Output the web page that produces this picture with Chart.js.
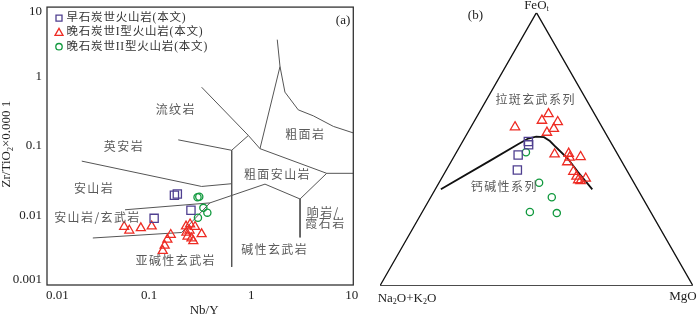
<!DOCTYPE html>
<html>
<head>
<meta charset="utf-8">
<script src="https://cdn.jsdelivr.net/npm/chart.js@4.4.0/dist/chart.umd.min.js"></script>
<style>
html, body { margin: 0; padding: 0; background: #fff; }
#wrap { position: relative; width: 700px; height: 316px; overflow: hidden; }
#left { position: absolute; left: 0; top: 0; }
#right { position: absolute; left: 366px; top: 0; }
</style>
</head>
<body>
<div id="wrap">
<canvas id="left" width="366" height="316"></canvas>
<canvas id="right" width="334" height="316"></canvas>
</div>
<script>
// ---- (a) Nb/Y vs Zr/TiO2*0.0001 ----
var earlyNbY  = [0.177, 0.189, 0.257, 0.112];
var earlyZrTi = [0.0196, 0.0204, 0.0119, 0.0091];
var lateINbY  = [0.057, 0.064, 0.083, 0.106, 0.136, 0.142, 0.151, 0.163, 0.230, 0.252, 0.282, 0.232, 0.238, 0.260, 0.271, 0.327, 0.249];
var lateIZrTi = [0.0069, 0.0061, 0.0066, 0.0070, 0.0031, 0.0037, 0.0045, 0.0053, 0.0070, 0.0075, 0.0069, 0.0057, 0.0050, 0.0047, 0.0043, 0.0054, 0.0061];
var lateIINbY  = [0.298, 0.310, 0.340, 0.372, 0.301];
var lateIIZrTi = [0.0183, 0.0186, 0.0129, 0.0110, 0.0093];

var decadeX = [0.01, 0.1, 1, 10];
var decadeY = [0.001, 0.01, 0.1, 1, 10];

// field boundaries (Nb/Y, Zr/TiO2)
var fieldLines = [
  [[0.0219, 0.0607], [0.327, 0.0262], [0.644, 0.0287]],
  [[0.0581, 0.0121], [0.394, 0.0152], [1.365, 0.0283], [3.01, 0.0173], [5.49, 0.0405], [10, 0.0405]],
  [[0.0281, 0.00475], [0.2085, 0.0057], [0.394, 0.0152]],
  [[0.644, 0.0869], [0.644, 0.00182]],
  [[0.193, 0.1228], [0.644, 0.0869]],
  [[0.327, 0.703], [0.938, 0.142], [0.644, 0.0869]],
  [[0.938, 0.142], [1.219, 0.0917], [1.915, 1.395], [1.80, 3.40]],
  [[1.915, 1.395], [2.14, 0.597], [2.89, 0.332], [4.06, 0.272], [6.37, 0.192], [10, 0.1545]],
  [[1.219, 0.0917], [5.49, 0.0405]],
  [[3.01, 0.0173], [3.01, 0.00484]]
];
var fieldNames = ['流纹岩', '英安岩', '粗面岩', '安山岩', '安山岩/玄武岩', '亚碱性玄武岩', '粗面安山岩', '响岩/', '霞石岩', '碱性玄武岩'];
var fieldAt = [[0.1795, 0.338], [0.0558, 0.1], [3.33, 0.148], [0.0284, 0.0248], [0.0307, 0.0093], [0.1795, 0.00226], [1.78, 0.0395], [5.0, 0.0112], [5.25, 0.0077], [1.67, 0.00322]];

// ---- (b) AFM ternary: FeOt, Na2O+K2O, MgO ----
var earlyFeO = [52.8, 51.6, 47.9, 42.4];
var earlyAlk = [26.2, 26.7, 31.9, 34.9];
var earlyMgO = [21.0, 21.7, 20.2, 22.7];
var lateIFeO = [58.1, 60.5, 62.9, 60.0, 57.5, 56.1, 48.2, 48.4, 47.0, 45.3, 47.2, 41.8, 40.0, 38.7, 39.3, 38.4];
var lateIAlk = [27.8, 18.0, 14.7, 13.2, 15.7, 18.6, 20.1, 15.5, 15.9, 17.5, 12.3, 17.3, 17.2, 17.3, 14.6, 16.7];
var lateIMgO = [14.1, 21.5, 22.4, 26.8, 26.8, 25.3, 31.7, 36.1, 37.1, 37.2, 40.5, 40.9, 42.8, 44.0, 46.1, 44.9];
var lateIIFeO = [48.9, 37.7, 32.4, 27.0, 26.6];
var lateIIAlk = [28.9, 30.3, 28.9, 38.6, 30.2];
var lateIIMgO = [22.2, 32.0, 38.7, 34.4, 43.2];
// Irvine & Baragar tholeiitic / calc-alkaline divide
var ibFeO = [35.3, 45.9, 51.9, 53.9, 54.6, 54.4, 53.0, 50.8, 46.6, 41.8, 35.3];
var ibAlk = [62.9, 41.7, 29.8, 25.7, 22.8, 20.4, 19.2, 18.4, 16.7, 15.9, 14.5];
var ibMgO = [1.8, 12.4, 18.3, 20.4, 22.6, 25.2, 27.8, 30.8, 36.7, 42.2, 50.2];

var PURPLE = '#4f3f90', RED = '#ee2c24', GREEN = '#11993e';
var SERIF = '"Liberation Serif", "DejaVu Serif", serif';
var CJK = '"Noto Sans CJK SC", sans-serif';

function pairs(xs, ys) {
  return xs.map(function (x, i) { return { x: x, y: ys[i] }; });
}
function tern(f, a, m) {
  var s = f + a + m;
  return { x: 100 * (m + f / 2) / s, y: 100 * (f / s) * Math.sqrt(3) / 2 };
}
function ternPts(fs, as, ms) {
  return fs.map(function (f, i) { return tern(f, as[i], ms[i]); });
}
function spaced(ctx, text, x, y, gap) {
  var chars = Array.from(text);
  var ws = chars.map(function (c) { return ctx.measureText(c).width; });
  var total = ws.reduce(function (s, w) { return s + w; }, 0) + gap * (chars.length - 1);
  var cx = x - total / 2;
  ctx.textAlign = 'left';
  chars.forEach(function (c, i) { ctx.fillText(c, cx, y); cx += ws[i] + gap; });
}
// parts: [text, isSubscript]
function rich(ctx, parts, x, y, size) {
  var big = size + 'px ' + SERIF, small = Math.round(size * 0.62) + 'px ' + SERIF;
  var total = 0;
  parts.forEach(function (p) { ctx.font = p[1] ? small : big; total += ctx.measureText(p[0]).width; });
  var cx = x - total / 2;
  ctx.textAlign = 'left';
  parts.forEach(function (p) {
    ctx.font = p[1] ? small : big;
    ctx.fillText(p[0], cx, p[1] ? y + size * 0.28 : y);
    cx += ctx.measureText(p[0]).width;
  });
}
function pointSet(data, style, color, r) {
  return {
    data: data, showLine: false, pointStyle: style, pointRadius: r, pointHoverRadius: r,
    pointBorderColor: color, pointBackgroundColor: 'rgba(0,0,0,0)', pointBorderWidth: 1.3, order: 0
  };
}
function lineSet(data, color, width) {
  return {
    data: data, showLine: true, borderColor: color, borderWidth: width, pointRadius: 0,
    fill: false, tension: 0, order: 5
  };
}

var leftDeco = {
  id: 'leftDeco',
  afterDraw: function (chart) {
    var ctx = chart.ctx, a = chart.chartArea, sx = chart.scales.x, sy = chart.scales.y;
    ctx.save();
    ctx.strokeStyle = '#333';
    ctx.lineWidth = 1.3;
    ctx.strokeRect(a.left, a.top, a.right - a.left, a.bottom - a.top);

    ctx.fillStyle = '#222';
    ctx.font = '13px ' + SERIF;
    ctx.textBaseline = 'middle';
    ctx.textAlign = 'center';
    decadeX.forEach(function (v) {
      var t = String(v), w = ctx.measureText(t).width;
      var px = sx.getPixelForValue(v);
      px = Math.max(px, a.left + w / 2 - 1);
      px = Math.min(px, a.right + 5 - w / 2);
      ctx.fillText(t, px, a.bottom + 11);
    });
    ctx.textAlign = 'right';
    decadeY.forEach(function (v) {
      var py = sy.getPixelForValue(v);
      py = Math.min(Math.max(py, a.top + 4), a.bottom - 5.5);
      ctx.fillText(String(v), a.left - 5, py);
    });

    ctx.font = '13px ' + SERIF;
    ctx.textAlign = 'center';
    ctx.fillText('Nb/Y', (a.left + a.right) / 2 + 4, a.bottom + 26);
    ctx.save();
    ctx.translate(7, (a.top + a.bottom) / 2 - 2);
    ctx.rotate(-Math.PI / 2);
    rich(ctx, [['Zr/TiO', 0], ['2', 1], ['×0.000 1', 0]], 0, 0, 13);
    ctx.restore();

    ctx.font = '13px ' + SERIF;
    ctx.textAlign = 'right';
    ctx.fillText('(a)', a.right - 3, a.top + 13);

    ctx.fillStyle = '#5a5a5a';
    ctx.font = '12px ' + CJK;
    fieldNames.forEach(function (n, i) {
      spaced(ctx, n, sx.getPixelForValue(fieldAt[i][0]), sy.getPixelForValue(fieldAt[i][1]), 1.4);
    });

    // legend
    var rows = [['早石炭世火山岩(本文)', PURPLE, 's'], ['晚石炭世I型火山岩(本文)', RED, 't'], ['晚石炭世II型火山岩(本文)', GREEN, 'c']];
    ctx.lineWidth = 1.3;
    rows.forEach(function (r, i) {
      var y = a.top + 11 + i * 14.3, x = a.left + 12;
      ctx.strokeStyle = r[1];
      ctx.beginPath();
      if (r[2] === 's') ctx.rect(x - 3, y - 3, 6, 6);
      else if (r[2] === 't') { ctx.moveTo(x, y - 4); ctx.lineTo(x + 4, y + 3); ctx.lineTo(x - 4, y + 3); ctx.closePath(); }
      else ctx.arc(x, y, 3.2, 0, Math.PI * 2);
      ctx.stroke();
      ctx.fillStyle = '#333';
      ctx.font = '11.5px ' + SERIF + ', ' + CJK;
      ctx.textAlign = 'left';
      var cx = x + 7.5;
      Array.from(r[0]).forEach(function (c) { ctx.fillText(c, cx, y); cx += ctx.measureText(c).width + 0.8; });
    });
    ctx.restore();
  }
};

var leftSets = [
  pointSet(pairs(earlyNbY, earlyZrTi), 'rect', PURPLE, 5.8),
  pointSet(pairs(lateINbY, lateIZrTi), 'triangle', RED, 5.2),
  pointSet(pairs(lateIINbY, lateIIZrTi), 'circle', GREEN, 3.6)
];
fieldLines.forEach(function (l) {
  leftSets.push(lineSet(l.map(function (p) { return { x: p[0], y: p[1] }; }), '#555', 1));
});

new Chart(document.getElementById('left'), {
  type: 'scatter',
  data: { datasets: leftSets },
  options: {
    responsive: false,
    animation: false,
    layout: { padding: { top: 3, right: 12.7, left: 0, bottom: 0 } },
    plugins: { legend: { display: false }, tooltip: { enabled: false } },
    scales: {
      x: {
        type: 'logarithmic', min: 0.01, max: 10,
        grid: { display: false }, border: { display: false }, ticks: { display: false },
        afterFit: function (s) { s.height = 31; }
      },
      y: {
        type: 'logarithmic', min: 0.001, max: 10,
        grid: { display: false }, border: { display: false }, ticks: { display: false },
        afterFit: function (s) { s.width = 47; }
      }
    }
  },
  plugins: [leftDeco]
});

var rightDeco = {
  id: 'rightDeco',
  afterDraw: function (chart) {
    var ctx = chart.ctx, sx = chart.scales.x, sy = chart.scales.y;
    ctx.save();
    ctx.fillStyle = '#222';
    ctx.textBaseline = 'middle';
    var apex = tern(100, 0, 0), left = tern(0, 100, 0), right = tern(0, 0, 100);
    rich(ctx, [['FeO', 0], ['t', 1]], sx.getPixelForValue(apex.x), sy.getPixelForValue(apex.y) - 7, 13);
    rich(ctx, [['Na', 0], ['2', 1], ['O+K', 0], ['2', 1], ['O', 0]], sx.getPixelForValue(left.x) + 27, sy.getPixelForValue(left.y) + 13, 13);
    rich(ctx, [['MgO', 0]], sx.getPixelForValue(right.x) - 10, sy.getPixelForValue(right.y) + 11, 13);
    ctx.font = '13px ' + SERIF;
    ctx.textAlign = 'center';
    ctx.fillText('(b)', sx.getPixelForValue(30.5), sy.getPixelForValue(85.6));
    ctx.fillStyle = '#5a5a5a';
    ctx.font = '12px ' + CJK;
    spaced(ctx, '拉斑玄武系列', sx.getPixelForValue(49.5), sy.getPixelForValue(59.1), 1.4);
    spaced(ctx, '钙碱性系列', sx.getPixelForValue(39.5), sy.getPixelForValue(31.4), 1.4);
    ctx.restore();
  }
};

var frameF = [100, 0, 0, 100], frameA = [0, 100, 0, 0], frameM = [0, 0, 100, 0];

new Chart(document.getElementById('right'), {
  type: 'scatter',
  data: {
    datasets: [
      pointSet(ternPts(earlyFeO, earlyAlk, earlyMgO), 'rect', PURPLE, 5.8),
      pointSet(ternPts(lateIFeO, lateIAlk, lateIMgO), 'triangle', RED, 5.4),
      pointSet(ternPts(lateIIFeO, lateIIAlk, lateIIMgO), 'circle', GREEN, 3.6),
      lineSet(ternPts(frameF, frameA, frameM), '#111', 1.3),
      lineSet(ternPts(ibFeO, ibAlk, ibMgO), '#111', 1.8)
    ]
  },
  options: {
    responsive: false,
    animation: false,
    layout: { padding: { left: 14, right: 3.3, top: 12.7, bottom: 30.3 } },
    plugins: { legend: { display: false }, tooltip: { enabled: false } },
    scales: {
      x: { type: 'linear', min: 0, max: 100, display: false },
      y: { type: 'linear', min: 0, max: 86.6, display: false }
    }
  },
  plugins: [rightDeco]
});
</script>
</body>
</html>
